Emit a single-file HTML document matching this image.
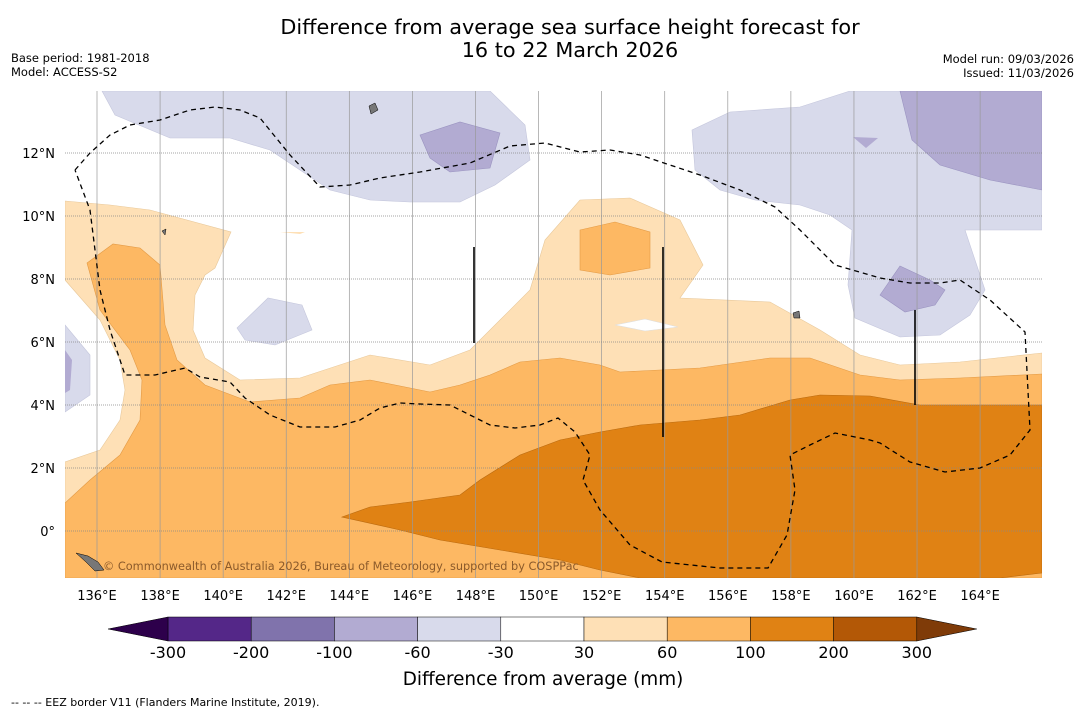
<!DOCTYPE html>
<html><head><meta charset="utf-8"><style>
body{margin:0;background:#fff;font-family:"Liberation Sans","DejaVu Sans",sans-serif;}
svg text{font-family:"DejaVu Sans","Liberation Sans",sans-serif;}
</style></head><body>
<svg width="1085" height="713" viewBox="0 0 1085 713">
<text x="570" y="34" text-anchor="middle" font-size="20.8">Difference from average sea surface height forecast for</text>
<text x="570" y="57" text-anchor="middle" font-size="20.8">16 to 22 March 2026</text>
<text x="11" y="62" font-size="11.5">Base period: 1981-2018</text>
<text x="11" y="76" font-size="11.5">Model: ACCESS-S2</text>
<text x="1074" y="63" font-size="11.5" text-anchor="end">Model run: 09/03/2026</text>
<text x="1074" y="77" font-size="11.5" text-anchor="end">Issued: 11/03/2026</text>
<defs><clipPath id="mc"><rect x="65" y="91" width="977" height="487"/></clipPath></defs>
<g clip-path="url(#mc)">
<rect x="65" y="91" width="977" height="487" fill="#fff"/>
<g stroke-width="0.6">
<polygon fill="#fee0b6" stroke="#e8c89a" points="65,201 110,205 150,210 231,232 215,268 205,275 195,295 193,330 205,358 240,380 300,378 370,355 430,365 470,350 500,320 530,290 545,240 580,200 630,198 680,220 703,265 680,298 770,302 820,330 860,355 900,365 960,362 1042,353 1042,578 65,578 65,462 100,450 120,420 125,390 120,360 100,320 65,280"/>
<polygon fill="#fdb863" stroke="#e39a45" points="65,503 90,480 120,455 140,420 142,380 130,350 100,310 87,263 113,244 140,248 160,265 165,325 177,360 205,385 250,402 300,398 330,385 370,380 430,392 460,385 490,375 520,362 560,358 600,365 620,372 700,368 770,358 810,358 860,375 900,380 960,378 1042,374 1042,578 65,578"/>
<polygon fill="#fdb863" stroke="#e39a45" points="580,230 615,222 650,232 650,268 610,275 580,270"/>
<polygon fill="#e08214" stroke="#b96a10" points="342,517 370,507 410,502 460,495 480,480 520,455 560,440 600,432 640,425 700,420 740,415 790,400 820,395 870,396 920,405 1042,405 1042,573 1000,578 640,578 600,570 560,560 500,550 440,540 400,530"/>
<polygon fill="#fff" stroke="#ddd" points="615,325 645,319 678,327 645,331"/>
<polygon fill="#d8daeb" stroke="#c4c6dc" points="102,91 490,91 525,125 530,160 495,185 460,202 410,202 370,200 330,190 300,170 270,150 230,138 170,138 115,115"/>
<polygon fill="#b2abd2" stroke="#9a93c0" points="420,135 460,122 500,133 490,168 450,172 430,158"/>
<polygon fill="#d8daeb" stroke="#c4c6dc" points="692,130 730,112 800,107 850,91 1042,91 1042,230 965,230 985,290 970,315 940,335 900,337 855,318 848,285 852,230 830,215 800,205 755,200 720,190 695,170"/>
<polygon fill="#b2abd2" stroke="#9a93c0" points="900,91 1042,91 1042,190 990,180 940,165 912,140"/>
<polygon fill="#b2abd2" points="853,137 878,138 866,148"/>
<polygon fill="#b2abd2" stroke="#9a93c0" points="880,295 900,266 930,280 945,290 935,305 905,312"/>
<polygon fill="#d8daeb" stroke="#c4c6dc" points="237,328 268,298 302,305 312,330 275,345 245,340"/>
<polygon fill="#d8daeb" stroke="#c4c6dc" points="65,325 90,355 90,395 65,412"/>
<polygon fill="#b2abd2" points="65,350 72,360 70,390 65,393"/>
<polygon fill="#fee0b6" points="280,232 305,232 300,234"/>
</g>
<g id="grid" stroke="#888" stroke-width="0.7"></g>
<polyline fill="none" stroke="#000" stroke-width="1.3" stroke-dasharray="5,4" points="75,170 90,153 110,135 130,125 160,120 190,110 215,107 240,110 260,118 290,155 320,187 350,185 380,178 420,172 470,163 510,146 545,143 580,152 610,150 640,155 700,175 740,190 775,207 800,230 835,265 880,278 910,283 940,283 960,280 990,300 1025,332 1030,430 1010,455 980,468 945,472 910,462 880,443 870,440 835,433 810,445 790,455 795,490 787,535 768,568 720,568 662,562 630,545 600,510 583,480 590,455 575,432 558,418 540,425 515,428 490,425 470,415 450,405 420,404 400,403 380,408 360,420 335,427 300,427 270,415 245,398 230,382 200,377 185,368 155,375 125,375 110,330 100,290 90,210 75,170"/>
<g stroke="#000" stroke-width="1.6">
<line x1="474" y1="247" x2="474" y2="343"/><line x1="663" y1="247" x2="663" y2="437"/><line x1="915" y1="310" x2="915" y2="405"/>
</g>
<g fill="#777" stroke="#000" stroke-width="0.5">
<polygon points="76,553 88,556 98,562 104,570 95,571 86,562"/>
<polygon points="369,106 375,103 378,110 371,114"/>
<polygon points="793,313 799,311 800,318 794,318"/>
<polygon points="162,231 166,229 165,235"/>
</g>
<text x="103" y="570" font-size="11.3" fill="#8b5a2b">© Commonwealth of Australia 2026, Bureau of Meteorology, supported by COSPPac</text>
</g>
<g id="axes" font-size="13"></g>
<g id="cbar"></g>
<text x="543" y="685" text-anchor="middle" font-size="18.4">Difference from average (mm)</text>
<text x="11" y="706" font-size="11">--  --  -- EEZ border V11 (Flanders Marine Institute, 2019).</text>
</svg>
<script>
const lons=[136,138,140,142,144,146,148,150,152,154,156,158,160,162,164];
const lats=[12,10,8,6,4,2,0];
const levels=[-300,-200,-100,-60,-30,30,60,100,200,300];
const colors=["#542788","#8073ac","#b2abd2","#d8daeb","#ffffff","#fee0b6","#fdb863","#e08214","#b35806"];
const tipColors=["#2d004b","#7f3b08"];
const NS="http://www.w3.org/2000/svg";
const xLon=l=>97+(l-136)*31.54, yLat=a=>531-a*31.5;
const grid=document.getElementById('grid'),axes=document.getElementById('axes'),cb=document.getElementById('cbar');
function mk(t,a,p){const e=document.createElementNS(NS,t);for(const k in a)e.setAttribute(k,a[k]);p.appendChild(e);return e;}
lons.forEach(l=>{const x=xLon(l);
const g=mk('line',{x1:x,y1:91,x2:x,y2:578,stroke:'#999'},grid);


const t=mk('text',{x:x,y:600,'text-anchor':'middle'},axes);t.textContent=l+'°E';

});
lats.forEach(a=>{const y=yLat(a);
const g=mk('line',{x1:65,y1:y,x2:1042,y2:y,'stroke-dasharray':'1,1'},grid);


const t=mk('text',{x:55,y:y+5,'text-anchor':'end'},axes);t.textContent=a===0?'0°':a+'°N';

});
const bx0=168,bw=83.2,by=617,bh=24;
colors.forEach((c,i)=>{const r=mk('rect',{x:bx0+i*bw,y:by,width:bw,height:bh,fill:c,stroke:'#000','stroke-width':0.5},cb);

});
const xe=bx0+colors.length*bw;
const t1=mk('polygon',{points:`${bx0},${by} 108,${by+bh/2} ${bx0},${by+bh}`,fill:tipColors[0],stroke:'#000','stroke-width':0.5},cb);


const t2=mk('polygon',{points:`${xe},${by} ${xe+60},${by+bh/2} ${xe},${by+bh}`,fill:tipColors[1],stroke:'#000','stroke-width':0.5},cb);


levels.forEach((v,i)=>{const t=mk('text',{x:bx0+i*bw,y:658,'text-anchor':'middle','font-size':16},cb);t.textContent=v;

});
</script>
</body></html>
